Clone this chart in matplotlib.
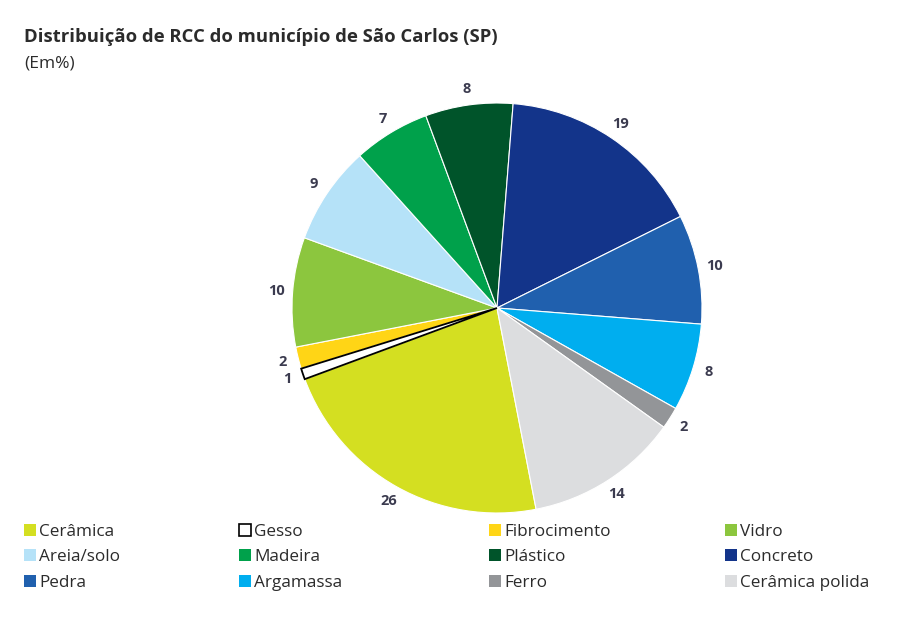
import matplotlib
matplotlib.use('Agg')
import matplotlib.pyplot as plt
import matplotlib.patches as mpatches

plt.rcParams['font.family'] = ['Open Sans', 'DejaVu Sans']

# data (percent, as printed on the chart)
categorias = ['Cerâmica', 'Gesso', 'Fibrocimento', 'Vidro', 'Areia/solo', 'Madeira',
              'Plástico', 'Concreto', 'Pedra', 'Argamassa', 'Ferro', 'Cerâmica polida']
valores = [26, 1, 2, 10, 9, 7, 8, 19, 10, 8, 2, 14]
cores = ['#d4df21', '#ffffff', '#ffd516', '#8cc63e', '#b5e2f8', '#00a14b',
         '#00542a', '#13348a', '#2060ae', '#00aeef', '#939598', '#dcdddf']

fig = plt.figure(figsize=(9, 6.22), dpi=100)

# pie axes: center ~ (497, 308) px, radius ~205 px
ax = fig.add_axes([292 / 900, (622 - 513) / 622, 410 / 900, 410 / 622])
wedges, textos = ax.pie(valores, colors=cores, startangle=-79, counterclock=False,
                        labels=[str(v) for v in valores], labeldistance=1.08,
                        wedgeprops=dict(edgecolor='white', linewidth=0.8),
                        textprops=dict(fontsize=10.5, fontweight='bold', color='#3b3b4f'))
for t in textos:
    t.set_ha('center')
    t.set_va('center')
# gesso is outlined in black
wedges[1].set_edgecolor('black')
wedges[1].set_linewidth(1.3)
wedges[1].set_zorder(3)
ax.set_xlim(-1, 1)
ax.set_ylim(-1, 1)
ax.set_aspect('equal')
ax.axis('off')

# title
fig.text(24 / 900, 1 - 42 / 622, 'Distribuição de RCC do município de São Carlos (SP)',
         fontsize=13.3, fontweight='bold', color='#2b2b2b')
fig.text(24 / 900, 1 - 68 / 622, '(Em%)', fontsize=12.5, color='#2b2b2b')

# legend: 4 columns x 3 rows
col_x = [24, 239, 489, 725]
for c in range(4):
    idx = [c, c + 4, c + 8]
    handles = []
    for i in idx:
        ec = 'black' if categorias[i] == 'Gesso' else cores[i]
        handles.append(mpatches.Patch(facecolor=cores[i], edgecolor=ec,
                                      linewidth=1.2 if categorias[i] == 'Gesso' else 0,
                                      label=categorias[i]))
    fig.legend(handles=handles, loc='upper left',
               bbox_to_anchor=(col_x[c] / 900, 1 - 524 / 622),
               frameon=False, fontsize=12.3, handlelength=0.7, handleheight=0.7,
               handletextpad=0.2, labelspacing=0.55, borderpad=0, borderaxespad=0,
               labelcolor='#2b2b2b')

fig.savefig('out.png', dpi=100)
